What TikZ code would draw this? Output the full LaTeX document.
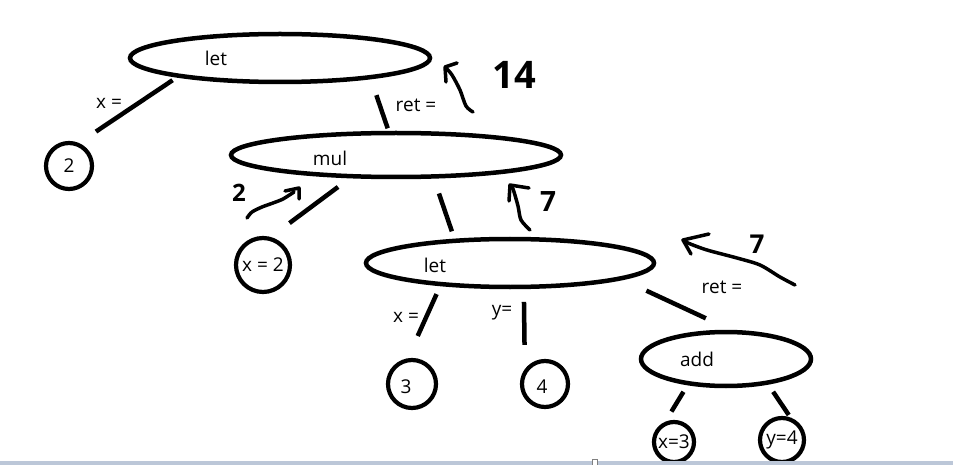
\documentclass[tikz,border=0pt]{standalone}
\usepackage{fontspec}
\setmainfont{Open Sans}
\usetikzlibrary{shapes}
\definecolor{barblue}{RGB}{188,199,216}
\tikzset{
  opnode/.style={draw, ellipse, line width=4.5pt, inner sep=0pt, outer sep=0pt},
  valnode/.style={draw, circle, line width=4.2pt, inner sep=0pt, outer sep=0pt},
  branch/.style={line width=4.5pt},
  scribble/.style={line width=3.5pt, line cap=round, line join=round},
  lab/.style={inner sep=0pt}
}
\begin{document}
\begin{tikzpicture}[x=1pt, y=-1pt]
		\tikzstyle{every node}=[font=\fontsize{19}{22}\selectfont]
		\useasboundingbox (0,0) rectangle (953,465);
		
		\node[opnode, minimum width=300pt, minimum height=48pt, label={[xshift=-64pt]center:let}] (let1) at (280,58) {};
		\node[opnode, minimum width=330pt, minimum height=44pt, label={[xshift=-66pt, yshift=-3pt]center:mul}] (mul) at (396,155) {};
		\node[opnode, minimum width=288pt, minimum height=48pt, label={[xshift=-75pt, yshift=-2pt]center:let}] (let2) at (510,263) {};
		\node[opnode, minimum width=170pt, minimum height=54pt, label={[xshift=-29pt]center:add}] (add) at (726,359) {};
		
		\node[valnode, minimum size=46pt] (n2) at (69,166) {2};
		\node[valnode, minimum size=54pt] (x2) at (263,265) {x = 2};
		\node[valnode, minimum size=48pt] (n3) at (412,384) {};
		\node[valnode, minimum size=46pt] (n4) at (545,384) {};
		\node[valnode, minimum size=40pt] (x3) at (674,442) {x=3};
		\node[valnode, minimum size=44pt] (y4) at (782,440) {y=4};
		\node[lab] (t3) at (406,387) {3};
		\node[lab] (t4) at (542,387) {4};
		
		\draw[branch, shorten <=8pt, shorten >=23pt] (let1.190) -- (n2.70);
		\draw[branch, shorten <=19pt, shorten >=5pt] (let1.348.6) -- (mul.107.7);
		\draw[branch, shorten <=18pt, shorten >=26pt] (mul.206) -- (x2.78);
		\draw[branch, shorten <=18pt, shorten >=10pt] (mul.330) -- (let2.158);
		\draw[branch, shorten <=11pt, shorten >=27pt] (let2.197) -- (n3.103);
		\draw[branch, shorten <=15pt, shorten >=28pt] (let2.300) -- (n4.151);
		\draw[branch, shorten <=29pt, shorten >=33pt] (let2.352) -- (add.70);
		\draw[branch, shorten <=10pt, shorten >=16pt] (add.213) -- (x3.123);
		\draw[branch, shorten <=11pt, shorten >=7pt] (add.330) -- (y4.61);
		
		\node[lab] (xa) at (109,103) {x =};
		\node[lab] (ra) at (416,105) {ret =};
		\node[lab] (xb) at (406,317) {x =};
		\node[lab] (yb) at (502,313) {y=};
		\node[lab] (rb) at (722,287) {ret =};
		
		\draw[scribble] plot[smooth] coordinates {(473,112) (466,106) (460,90) (452,75) (446,68)};
		\draw[scribble] (457,63) -- (445,67) -- (446,82);
		\node[lab, font=\fontsize{38}{42}\bfseries] (v14) at (514,75) {14};
		
		\draw[scribble] plot[smooth] coordinates {(247,218) (252,212) (262,207) (273,203) (283,199) (294,192)};
		\draw[scribble] (285,191) -- (299,188) -- (299,199);
		\node[lab, font=\fontsize{24}{28}\bfseries] (v2) at (239,193) {2};
		
		\draw[scribble] plot[smooth] coordinates {(530,230) (521,220) (518,206) (513,189) (510,186)};
		\draw[scribble] (529,188) -- (510,185) -- (509,201);
		\node[lab, font=\fontsize{28}{32}\bfseries] (v7a) at (548,202) {7};
		
		\draw[scribble] plot[smooth] coordinates {(795,285) (780,277) (760,265) (737,258) (707,250) (688,243) (684,240)};
		\draw[scribble] (709,234) -- (683,240) -- (691,254);
		\node[lab, font=\fontsize{26}{30}\bfseries] (v7b) at (757,244) {7};
		
		\fill[barblue] (0,461) rectangle (953,465);
		\draw[gray, fill=white, line width=0.6pt] (592,459) rectangle (597,465);
		
		\end{tikzpicture}
\end{document}
